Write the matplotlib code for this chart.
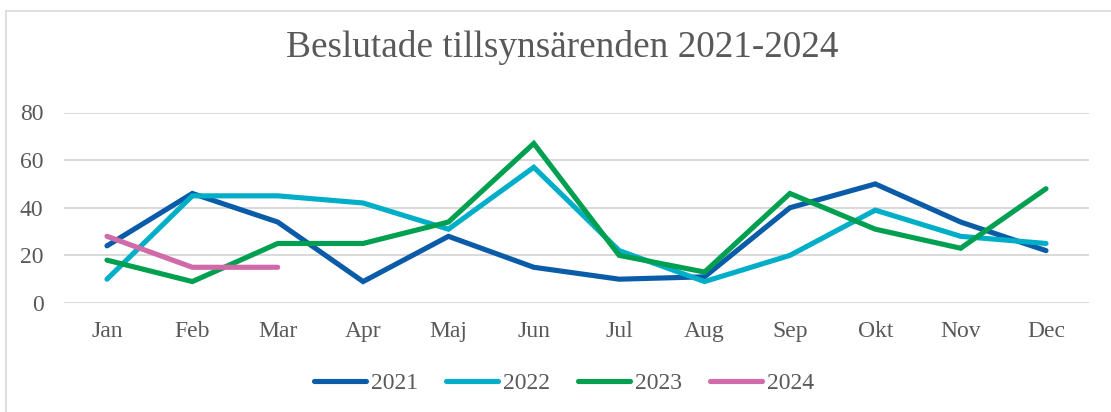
import matplotlib
matplotlib.use("Agg")
import matplotlib.pyplot as plt
from matplotlib.lines import Line2D

months = ['Jan', 'Feb', 'Mar', 'Apr', 'Maj', 'Jun', 'Jul', 'Aug', 'Sep', 'Okt', 'Nov', 'Dec']
y2021 = [24, 46, 34, 9, 28, 15, 10, 11, 40, 50, 34, 22]
y2022 = [10, 45, 45, 42, 31, 57, 22, 9, 20, 39, 28, 25]
y2023 = [18, 9, 25, 25, 34, 67, 20, 13, 46, 31, 23, 48]
y2024 = [28, 15, 15]
yticks = [0, 20, 40, 60, 80]

series = [('2021', y2021, '#0A5CA8'), ('2022', y2022, '#00AEC7'),
          ('2023', y2023, '#00A050'), ('2024', y2024, '#D06AA8')]

plt.rcParams['font.family'] = ['Liberation Serif', 'DejaVu Serif']
txt = '#595959'

W, H = 1111, 412
fig = plt.figure(figsize=(W / 100, H / 100), dpi=100)
ax = fig.add_axes([64.3 / W, (H - 303) / H, 1024.4 / W, 190.5 / H])

for name, vals, col in series:
    ax.plot(range(len(vals)), vals, color=col, lw=3.7, label=name,
            solid_capstyle='round', solid_joinstyle='miter')

ax.set_xlim(-0.5, 11.5)
ax.set_ylim(0, 80)
ax.set_yticks(yticks)
ax.set_xticks(range(len(months)))
ax.set_xticklabels(months)
ax.grid(axis='y', color='#D9D9D9', lw=1.4)
ax.set_axisbelow(True)
for s in ax.spines.values():
    s.set_visible(False)
ax.tick_params(axis='both', length=0, labelsize=17, labelcolor=txt)
ax.tick_params(axis='y', pad=15)
ax.tick_params(axis='x', pad=13)

fig.text(562 / W, 1 - 57 / H, 'Beslutade tillsynsärenden 2021-2024', ha='center',
         va='baseline', fontsize=26.8, color=txt)

handles = [Line2D([], [], color=c, lw=3.7, solid_capstyle='round') for _, _, c in series]
fig.legend(handles, [n for n, _, _ in series], loc='center', bbox_to_anchor=(564 / W, 1 - 383 / H),
           ncol=4, frameon=False, fontsize=17, labelcolor=txt, handlelength=2.2,
           handletextpad=0.2, columnspacing=1.2)

# chart area border (cropped on right and bottom)
fig.add_artist(Line2D([6 / W, 6 / W], [0, 1 - 11 / H], color='#D9D9D9', lw=1.2))
fig.add_artist(Line2D([6 / W, 1], [1 - 11 / H, 1 - 11 / H], color='#D9D9D9', lw=1.2))

fig.savefig('out.png', dpi=100, facecolor='white')
